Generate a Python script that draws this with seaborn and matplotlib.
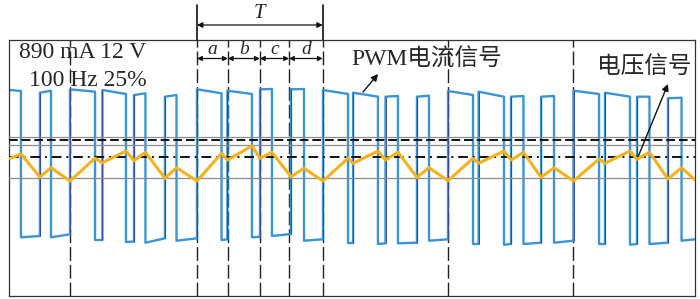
import numpy as np
import pandas as pd
import matplotlib
matplotlib.use("Agg")
from matplotlib import pyplot as plt
import seaborn as sns

# Time axis in ms (0 = first dashed marker), amplitude in screen units from the bottom of the frame
rise_t = [-4.77, -2.39, 0.00, 2.58, 5.09, 7.55, 10.10, 12.52, 15.11, 17.57, 20.12,
          22.51, 25.09, 27.59, 30.06, 32.49, 35.07, 37.46, 40.04, 42.54, 45.09, 47.55]
fall_t = [-3.90, -1.51, 1.99, 4.45, 6.00, 8.47, 12.05, 14.47, 16.06, 18.61, 22.11,
          24.49, 26.08, 28.55, 32.05, 34.51, 36.06, 38.49, 42.07, 44.53, 46.08, 48.63]
end_t = 49.70

# PWM current: level at start/end of each high pulse and of the low gap after it
top_start = [206, 203.3, 206.7, 206, 201, 199.3, 206.7, 205.3, 206.7, 206.7, 206,
             203.3, 199.3, 199.3, 205, 204.3, 199.3, 199.3, 205.3, 203.3, 199.3, 197.7]
top_end = [205, 205.3, 204.3, 202, 202.7, 201, 202.7, 202, 207, 207, 202,
           199.3, 200, 200.3, 201, 199.3, 200, 200, 202, 199.3, 199.3, 198.3]
low_start = [58.7, 58.7, 56, 54, 53.3, 55.3, 56, 58.7, 60, 55.3, 53,
             52, 52.7, 55.3, 52, 51.3, 52, 53.3, 52, 51.3, 52, 55.3]
low_end = [60, 61.7, 56, 54.5, 57.7, 57.7, 56.7, 59.3, 62, 56.7, 53,
           52.7, 53.3, 56.7, 52, 52, 53.3, 55.3, 52, 52, 53.3, 56.7]

# voltage signal: value at each rising edge and each falling edge, then at the frame end
volt_at_rise = [137.5, 119, 115, 133.3, 135.3, 117.7, 115, 136, 137.7, 119.3, 115,
                132.7, 136, 118.7, 115.3, 132.7, 136, 118.7, 115, 132.7, 136.7, 117]
volt_at_fall = [142, 128.3, 137.7, 145, 143.7, 128.3, 142.7, 150, 143.7, 127.7, 137.7,
                145, 143.7, 128.3, 137.7, 145, 143.7, 128.3, 137, 145, 143.7, 128.3]
volt_end = 116

markers_t = [0.0, 10.1, 12.55, 15.1, 17.42, 20.1, 30.05, 40.0]
hlines_gray = [159.5, 151.5, 118]
hline_dash = 156.5
hline_dashdot = 139
sub_labels = ["a", "b", "c", "d"]

# build the step path of the current
pts = []
for i in range(len(rise_t)):
    nxt = rise_t[i + 1] if i + 1 < len(rise_t) else end_t
    pts += [(rise_t[i], top_start[i]), (fall_t[i], top_end[i]),
            (fall_t[i], low_start[i]), (nxt, low_end[i])]
    if i + 1 < len(rise_t):
        pts.append((nxt, top_start[i + 1]))
cur = pd.DataFrame(pts, columns=["t", "y"])

vt, vy = [], []
for i in range(len(rise_t)):
    vt += [rise_t[i], fall_t[i]]
    vy += [volt_at_rise[i], volt_at_fall[i]]
vt.append(end_t)
vy.append(volt_end)
volt = pd.DataFrame({"t": vt, "y": vy})

sns.set_theme(style="white")
plt.rcParams["font.family"] = ["Liberation Serif", "Noto Sans CJK SC"]

fig = plt.figure(figsize=(7, 2.99), dpi=100)
ax = fig.add_axes([9 / 700, 3 / 299, 686 / 700, 256 / 299])
ax.set_xlim(-4.85, 49.70)
ax.set_ylim(0, 256)

for m in markers_t:
    ax.axvline(m, color="#222222", lw=1.0, linestyle=(0, (10, 2.8)), zorder=1)

sns.lineplot(data=cur, x="t", y="y", sort=False, estimator=None, color="#3b95d5",
             lw=1.7, ax=ax, zorder=2)
# darker rising edges
ax.vlines(rise_t[1:], low_end[:-1], top_start[1:], color="#2d3f8f", lw=0.6, zorder=2)

for h in hlines_gray:
    ax.axhline(h, color="#8c8c8c", lw=0.9, zorder=3)
ax.axhline(hline_dash, color="#111111", lw=1.4, linestyle=(0, (4.5, 2)), zorder=3)
ax.axhline(hline_dashdot, color="#111111", lw=1.4, linestyle=(0, (5, 2.5, 1, 2.5)), zorder=3)

sns.lineplot(data=volt, x="t", y="y", sort=False, estimator=None, color="#f6b21c",
             lw=2.2, ax=ax, zorder=4)

# period annotation above the frame
t0, t1 = markers_t[1], markers_t[5]
for x in (t0, t1):
    ax.plot([x, x], [256, 291], color="#111111", lw=1.2, clip_on=False)
ax.annotate("", xy=(t0, 271), xytext=(t1, 271), annotation_clip=False,
            arrowprops=dict(arrowstyle="<|-|>", color="#111111", lw=0.9,
                            shrinkA=0, shrinkB=0, mutation_scale=8))
ax.text((t0 + t1) / 2, 282, "T", ha="center", va="center", fontsize=15,
        style="italic", clip_on=False)
sub = markers_t[1:6]
for k, lab in enumerate(sub_labels):
    ax.annotate("", xy=(sub[k], 237.5), xytext=(sub[k + 1], 237.5),
                arrowprops=dict(arrowstyle="<|-|>", color="#111111", lw=0.9,
                                shrinkA=0, shrinkB=0, mutation_scale=7))
    ax.text((sub[k] + sub[k + 1]) / 2, 247, lab, ha="center", va="center",
            fontsize=14, style="italic")

ax.text(6.1, 244, "890 mA 12 V", ha="right", va="center", fontsize=17)
ax.text(6.1, 215, "100 Hz 25%", ha="right", va="center", fontsize=17)
ax.text(22.4, 236, "PWM电流信号", ha="left", va="center", fontsize=17)
ax.text(41.9, 229, "电压信号", ha="left", va="center", fontsize=17)
ax.annotate("", xy=(24.5, 222), xytext=(23.3, 204),
            arrowprops=dict(arrowstyle="-|>", color="#111111", lw=1.0, mutation_scale=10,
                            shrinkA=0, shrinkB=0))
ax.annotate("", xy=(47.55, 212), xytext=(45.1, 137),
            arrowprops=dict(arrowstyle="-|>", color="#111111", lw=1.0, mutation_scale=10,
                            shrinkA=0, shrinkB=0))

ax.set_xticks([])
ax.set_yticks([])
ax.set_xlabel("")
ax.set_ylabel("")
for s in ax.spines.values():
    s.set_color("#333333")
    s.set_linewidth(0.9)

fig.savefig("out.png", dpi=100)
